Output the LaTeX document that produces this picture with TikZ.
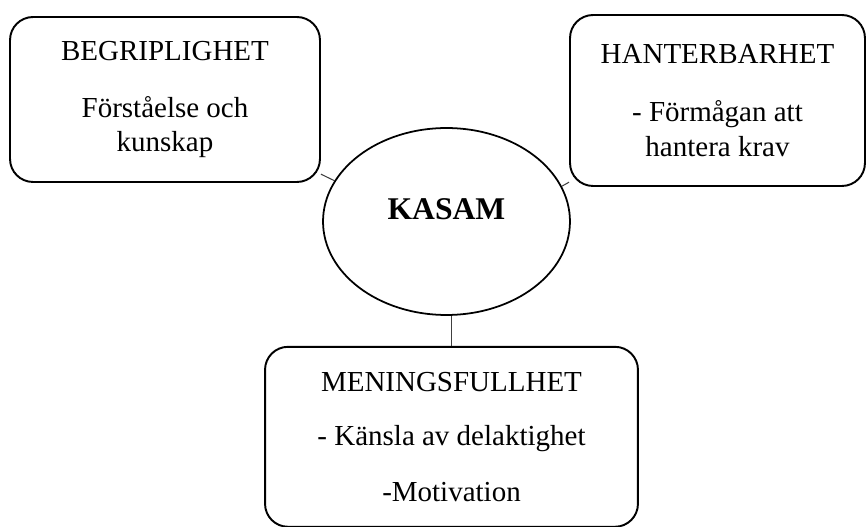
\documentclass[tikz,border=0pt]{standalone}
\usepackage{fontspec}
\setmainfont{Liberation Serif}
\usetikzlibrary{shapes.geometric, positioning, backgrounds}
\tikzstyle{box} = [rectangle, rounded corners=0.46cm, draw=black, line width=1.1pt, fill=white, inner sep=0pt, align=center, font=\fontsize{16.5}{19.8}\selectfont]
\tikzstyle{core} = [ellipse, draw=black, line width=1pt, fill=white, inner sep=0pt, minimum width=4.94cm, minimum height=3.74cm, text depth=0.48cm, font=\fontsize{18}{21.6}\selectfont\bfseries]
\tikzstyle{link} = [line width=0.6pt, draw=black!75]

\begin{document}
\begin{tikzpicture}[x=0.02cm, y=-0.02cm]
\useasboundingbox (0,0) rectangle (867,527);

\node (kasam) [core] at (446.5,221.5) {KASAM};
\node (begrip) [box, minimum width=6.2cm, minimum height=3.3cm] at (165,99.5) {BEGRIPLIGHET\\[0.44cm]Förståelse och\\kunskap};
\node (hantera) [box, minimum width=5.9cm, minimum height=3.42cm] at (717.5,100.5) {HANTERBARHET\\[0.48cm]- Förmågan att\\hantera krav};
\node (mening) [box, below=0.6cm of kasam, xshift=0.1cm, minimum width=7.46cm, minimum height=3.6cm] {MENINGSFULLHET\\[0.38cm]- Känsla av delaktighet\\[0.42cm]-Motivation};

\begin{pgfonlayer}{background}
\draw [link] (kasam.160) -- (begrip);
\draw [link] (kasam.17) -- (hantera);
\draw [link] (kasam.south -| mening.north) -- (mening.north);
\end{pgfonlayer}
\end{tikzpicture}
\end{document}
